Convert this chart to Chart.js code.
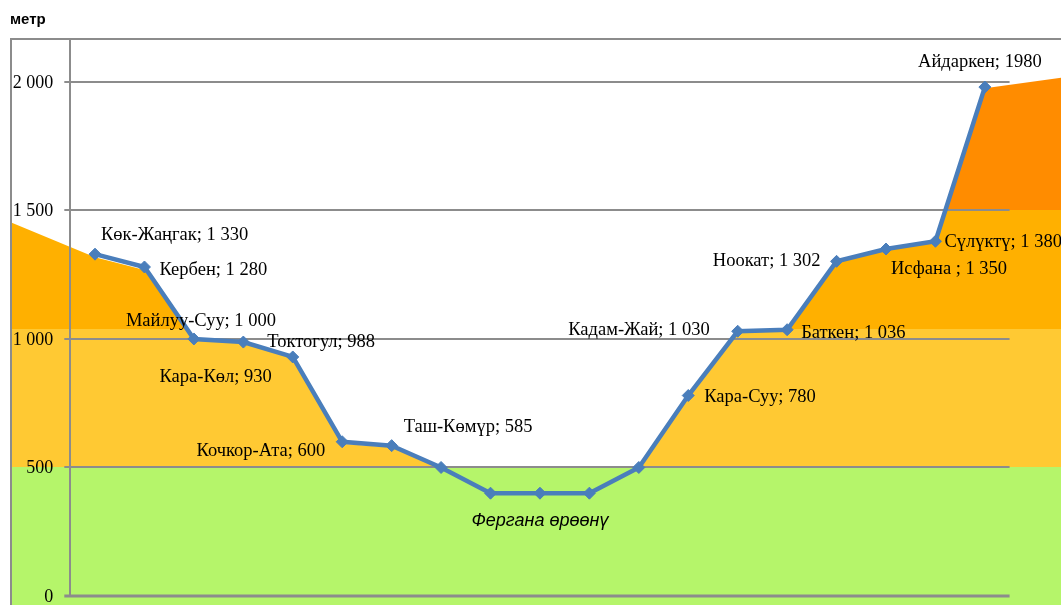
<!DOCTYPE html>
<html>
<head>
<meta charset="utf-8">
<title>Профиль</title>
<script src="https://cdn.jsdelivr.net/npm/chart.js@4.4.1/dist/chart.umd.min.js"></script>
<style>
  body { margin: 0; background: #fff; }
  canvas { display: block; }
</style>
</head>
<body>
<canvas id="profileChart" width="1061" height="605"></canvas>
<script>
// route points (altitude, m), one per town along the road
var pointIndex = [0, 1, 2, 3, 4, 5, 6, 7, 8, 9, 10, 11, 12, 13, 14, 15, 16, 17, 18];
var routeHeights = [1330, 1280, 1000, 988, 930, 600, 585, 500, 400, 400, 400, 500, 780, 1030, 1036, 1302, 1350, 1380, 1980];
var labelText = [
    'Көк-Жаңгак; 1 330', 'Кербен; 1 280', 'Майлуу-Суу; 1 000', 'Токтогул; 988', 'Кара-Көл; 930',
    'Кочкор-Ата; 600', 'Таш-Көмүр; 585', null, null, 'Фергана өрөөнү', null, null,
    'Кара-Суу; 780', 'Кадам-Жай; 1 030', 'Баткен; 1 036', 'Ноокат; 1 302', 'Исфана ; 1 350',
    'Сүлүктү; 1 380', 'Айдаркен; 1980'
];

// terrain under the road, runs past both ends of the plot
var xMin = -1.72, xMax = 19.54;
var terrainX = [xMin, 0, 1, 2, 3, 4, 5, 6, 7, 8, 9, 10, 11, 12, 13, 14, 15, 16, 17, 18, xMax];
var terrainHeights = [1455, 1318, 1268, 994, 984, 925, 592, 578, 500, 500, 500, 500, 500, 772, 1027, 1034, 1298, 1346, 1375, 1975, 2016];

// altitude zones
var bandLimits = [500, 1040, 1500];
var bandColors = ['#B5F56A', '#FFC933', '#FFB000', '#FF8C00'];

var yTicks = [0, 500, 1000, 1500, 2000];
var yTickText = ['0', '500', '1 000', '1 500', '2 000'];
var yMin = -35, yMax = 2167;

// label placement: [align, dx, dy]
var labelPlace = [
    ['left', 6, -19], ['left', 15, 3], ['center', 7, -18], ['left', 24, 0], ['right', -21, 20],
    ['right', -17, 9], ['left', 12, -18], null, null, ['center', 0, 28], null, null,
    ['left', 16, 2], ['right', -28, -1], ['left', 14, 3], ['right', -16, 0], ['left', 5, 20],
    ['left', 9, 1], ['center', -5, -25]
];

var serif = '"Liberation Serif", "Times New Roman", serif';
var sans = '"Liberation Sans", Arial, sans-serif';
var gridColor = '#8C8C8C';

function bandFill(context) {
    var chart = context.chart;
    var area = chart.chartArea;
    if (!area) return bandColors[1];
    var y = chart.scales.y;
    var g = chart.ctx.createLinearGradient(0, area.bottom, 0, area.top);
    var h = area.bottom - area.top;
    g.addColorStop(0, bandColors[0]);
    for (var i = 0; i < bandLimits.length; i++) {
        var f = (area.bottom - y.getPixelForValue(bandLimits[i])) / h;
        g.addColorStop(f, bandColors[i]);
        g.addColorStop(f, bandColors[i + 1]);
    }
    g.addColorStop(1, bandColors[bandColors.length - 1]);
    return g;
}

// axis, grid and frame drawn between the terrain and the road line
var framePlugin = {
    id: 'frame',
    afterDatasetDraw: function(chart, args) {
        if (args.index !== 0) return;
        var ctx = chart.ctx, area = chart.chartArea;
        var xs = chart.scales.x, ys = chart.scales.y;
        var axisX = xs.getPixelForValue(-0.5);
        var rightX = xs.getPixelForValue(pointIndex.length - 0.5);
        ctx.save();
        ctx.strokeStyle = gridColor;
        yTicks.forEach(function(v) {
            var py = Math.round(ys.getPixelForValue(v));
            ctx.lineWidth = v === 0 ? 3 : 2;
            ctx.beginPath();
            ctx.moveTo(axisX - 6, py);
            ctx.lineTo(rightX, py);
            ctx.stroke();
        });
        ctx.lineWidth = 2;
        ctx.beginPath();
        ctx.moveTo(Math.round(axisX), area.top);
        ctx.lineTo(Math.round(axisX), ys.getPixelForValue(0));
        ctx.moveTo(area.left + 1, area.top);
        ctx.lineTo(area.left + 1, area.bottom);
        ctx.moveTo(area.left, area.top);
        ctx.lineTo(area.right, area.top);
        ctx.stroke();

        ctx.fillStyle = '#000';
        ctx.font = '18px ' + serif;
        ctx.textAlign = 'right';
        ctx.textBaseline = 'middle';
        yTicks.forEach(function(v, i) {
            ctx.fillText(yTickText[i], axisX - 17, ys.getPixelForValue(v) + 1);
        });

        ctx.font = 'bold 15px ' + sans;
        ctx.textAlign = 'left';
        ctx.fillText('метр', area.left, 20);
        ctx.restore();
    },
    afterDatasetsDraw: function(chart) {
        var ctx = chart.ctx;
        var pts = chart.getDatasetMeta(1).data;
        ctx.save();
        ctx.fillStyle = '#000';
        ctx.textBaseline = 'middle';
        pts.forEach(function(p, i) {
            if (!labelText[i]) return;
            var pl = labelPlace[i];
            ctx.font = labelText[i] === 'Фергана өрөөнү' ? 'italic 18px ' + sans : '18.5px ' + serif;
            ctx.textAlign = pl[0];
            ctx.fillText(labelText[i], p.x + pl[1], p.y + pl[2]);
        });
        ctx.restore();
    }
};

var ctx = document.getElementById('profileChart');
new Chart(ctx.getContext('2d'), {
    type: 'line',
    data: {
        datasets: [{
            label: 'terrain',
            data: terrainX.map(function(x, i) { return { x: x, y: terrainHeights[i] }; }),
            backgroundColor: bandFill,
            borderColor: 'transparent',
            borderWidth: 0,
            pointRadius: 0,
            fill: 'start',
            tension: 0,
            clip: false,
            order: 2
        }, {
            label: 'route',
            data: pointIndex.map(function(x, i) { return { x: x, y: routeHeights[i] }; }),
            borderColor: '#4A7EBB',
            backgroundColor: '#4A7EBB',
            borderWidth: 4.5,
            pointStyle: 'rectRot',
            pointRadius: 6,
            pointBackgroundColor: '#4A7EBB',
            pointBorderColor: '#4A7EBB',
            pointBorderWidth: 1,
            fill: false,
            tension: 0,
            clip: false,
            order: 1
        }]
    },
    options: {
        responsive: false,
        animation: false,
        devicePixelRatio: 1,
        layout: { autoPadding: false, padding: { left: 10, top: 39, right: 0, bottom: 0 } },
        scales: {
            x: { type: 'linear', min: xMin, max: xMax, display: false },
            y: { type: 'linear', min: yMin, max: yMax, display: false }
        },
        plugins: {
            legend: { display: false },
            tooltip: { enabled: false }
        }
    },
    plugins: [framePlugin]
});
</script>
</body>
</html>
